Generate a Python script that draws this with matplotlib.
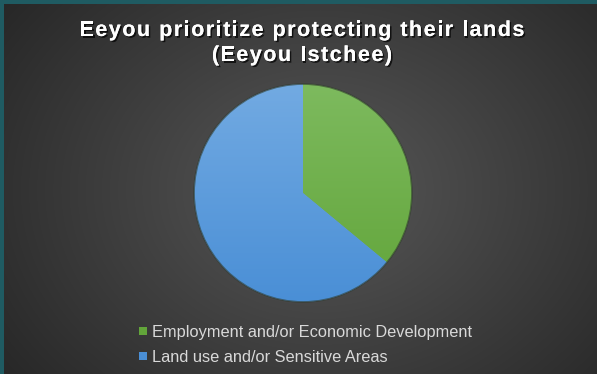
import matplotlib
matplotlib.use("Agg")
import matplotlib.pyplot as plt
import matplotlib.patheffects as pe
from matplotlib.font_manager import FontProperties
from matplotlib.lines import Line2D
from matplotlib.patches import Rectangle
import numpy as np

# data
categories = ["Employment and/or Economic Development", "Land use and/or Sensitive Areas"]
shares = [36, 64]
top_colors = ["#7dba5e", "#72aae2"]
bottom_colors = ["#62a53a", "#4a8fd6"]
title_lines = ["Eeyou prioritize protecting their lands", "(Eeyou Istchee)"]

W, H = 597, 374
fig = plt.figure(figsize=(W / 100, H / 100), dpi=100)

# background with a soft radial glow
bg = fig.add_axes([0, 0, 1, 1])
yy, xx = np.mgrid[0:H, 0:W]
r = np.sqrt(((xx - 320) / 340.0) ** 2 + ((yy - 190) / 270.0) ** 2)
shade = np.clip(0x58 / 255 - (0x58 - 0x2e) / 255 * r, 0.15, 1)
img = np.dstack([shade, shade, shade])
bg.imshow(img, extent=[0, W, H, 0], aspect="auto")
bg.set_xlim(0, W)
bg.set_ylim(H, 0)
bg.axis("off")
# teal frame on the top and left edge
bg.add_patch(Rectangle((0, 0), W, 4, color="#1f5b62", lw=0))
bg.add_patch(Rectangle((0, 0), 4, H, color="#1f5b62", lw=0))

# title, drawn letter by letter to get the wide tracking of the original
fp = FontProperties(family="Liberation Sans", weight="bold", size=15.5)
renderer = fig.canvas.get_renderer()
tracking = 1.5  # px between letters


def tw(s):
    return renderer.get_text_width_height_descent(s, fp, ismath=False)[0]


shadow = [pe.withSimplePatchShadow(offset=(1.2, -1.2), shadow_rgbFace="black", alpha=0.7),
          pe.Normal()]
for line, base in zip(title_lines, [36, 61]):
    xs = [tw(line[:i] + "x") - tw("x") + i * tracking for i in range(len(line))]
    total = tw(line) + (len(line) - 1) * tracking
    x0 = 302 - total / 2
    for ch, x in zip(line, xs):
        if ch == " ":
            continue
        bg.text(x0 + x, base, ch, ha="left", va="baseline", color="white",
                fontproperties=fp, path_effects=shadow)

# pie
cx, cy, rad = 303, 193, 110
ax = fig.add_axes([(cx - rad) / W, (H - cy - rad) / H, 2 * rad / W, 2 * rad / H])
wedges, _ = ax.pie(shares, startangle=90, counterclock=False, colors=top_colors,
                   wedgeprops=dict(linewidth=0))
for w, c1, c2 in zip(wedges, top_colors, bottom_colors):
    a = np.array(matplotlib.colors.to_rgb(c1))
    b = np.array(matplotlib.colors.to_rgb(c2))
    t = np.linspace(0, 1, 200)[:, None]
    grad = (a * (1 - t) + b * t)[:, None, :]
    im = ax.imshow(grad, extent=[-1, 1, -1, 1], aspect="auto", zorder=2)
    im.set_clip_path(w)
ring = plt.Circle((0, 0), 1.0, fill=False, ec="#2f3a2c", lw=1.2, alpha=0.6, zorder=3)
ax.add_patch(ring)
ax.set_xlim(-1.01, 1.01)
ax.set_ylim(-1.01, 1.01)
ax.axis("off")

handles = [Line2D([], [], marker="s", ls="", markersize=6, color=c, markeredgewidth=0)
           for c in bottom_colors]
fig.legend(handles, categories, loc="upper left", bbox_to_anchor=(132 / W, 1 - 318 / H),
           frameon=False, labelcolor="#d9d9d9", handlelength=0.55,
           handletextpad=0.3, labelspacing=0.62, borderaxespad=0,
           prop={"family": "Liberation Sans", "size": 11.8})

fig.savefig("out.png", dpi=100)
